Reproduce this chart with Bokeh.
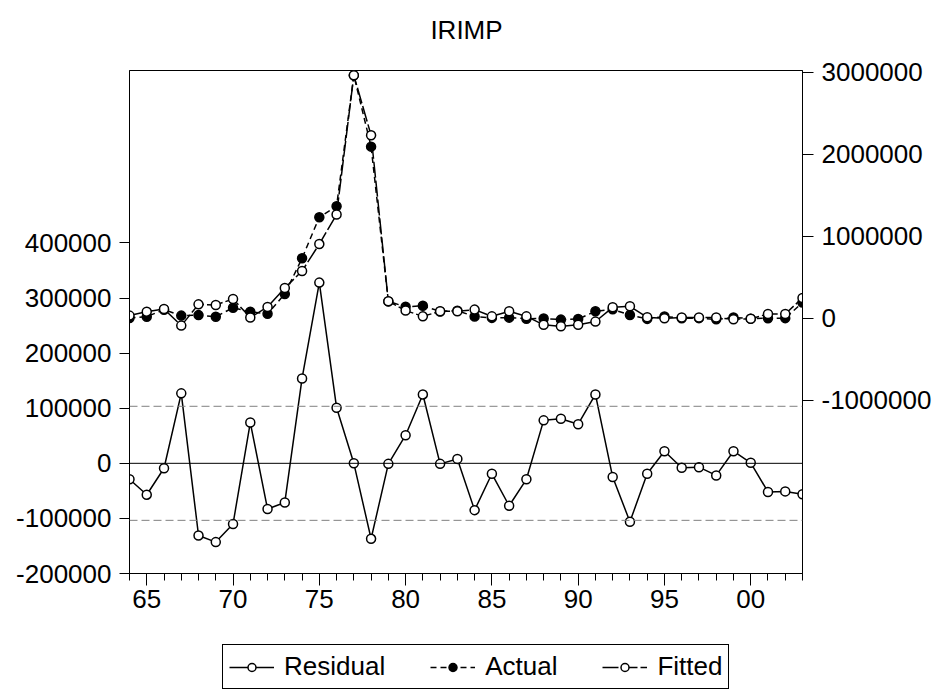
from bokeh.plotting import figure
from bokeh.layouts import column
from bokeh.models import (Range1d, LinearAxis, FixedTicker, NumeralTickFormatter,
                          Span, Legend, LegendItem, ColumnDataSource, Label)
from bokeh.embed import file_html
from bokeh.resources import INLINE

# IRIMP: actual vs fitted (right axis) and residuals (left axis), 1964-2003
years = list(range(1964, 2004))

residual = [-29000, -57000, -9000, 127000, -131000, -143000, -110000, 74000, -83000, -71000,
            154000, 328000, 101000, 0, -137000, -1000, 51000, 125000, -1000, 8000,
            -85000, -19000, -77000, -29000, 78000, 81000, 71000, 125000, -25000, -106000,
            -19000, 22000, -8000, -7000, -22000, 22000, 1000, -52000, -51000, -56000]

actual = [4000, 20000, 105000, 33000, 39000, 20000, 128000, 80000, 55000, 297000,
          732000, 1232000, 1366000, 2961000, 2092000, 206000, 140000, 152000, 84000, 93000,
          21000, 5000, 8000, -5000, -2000, -16000, -9000, 85000, 109000, 40000,
          -7000, 22000, 1000, 2000, -13000, 10000, -4000, 1000, 2000, 192000]

fitted = [33000, 81000, 114000, -89000, 170000, 163000, 236000, 9000, 139000, 370000,
          576000, 905000, 1265000, 2961000, 2231000, 207000, 94000, 24000, 85000, 85000,
          106000, 24000, 85000, 24000, -80000, -97000, -80000, -40000, 134000, 146000,
          12000, 0, 9000, 9000, 9000, -12000, -5000, 53000, 53000, 248000]

resid_se = 103500          # +/- one standard error band
left_ticks = [-200000, -100000, 0, 100000, 200000, 300000, 400000]
right_ticks = [-1000000, 0, 1000000, 2000000, 3000000]
year_ticks = [1965, 1970, 1975, 1980, 1985, 1990, 1995, 2000]
year_labels = ["65", "70", "75", "80", "85", "90", "95", "00"]
title_text = "IRIMP"

FONT = "Liberation Sans"
FS = "26px"
W = 946

src = ColumnDataSource(dict(year=years, residual=residual, actual=actual, fitted=fitted))


def bare_strip(height):
    """A frame-only strip (no axes, no outline) used for the heading and the key.
    In the column its frame lines up with the chart frame."""
    f = figure(width=W, height=height, output_backend="svg", toolbar_location=None,
               x_range=Range1d(0, 1), y_range=Range1d(0, 1),
               x_axis_location=None, y_axis_location=None, min_border=0)
    f.grid.visible = False
    f.outline_line_color = None
    f.background_fill_color = "white"
    f.border_fill_color = "white"
    return f


# heading (x measured from the left edge of the frame)
head = bare_strip(44)
head.add_layout(Label(x=337, y=15, x_units="screen", y_units="screen", text=title_text,
                      text_align="center", text_baseline="alphabetic",
                      text_font=FONT, text_font_size=FS, text_color="black"))

# main chart
p = figure(frame_width=673, frame_height=503, output_backend="svg", toolbar_location=None,
           x_range=Range1d(1964, 2003), y_range=Range1d(-200000, 713000),
           min_border_left=129, min_border_right=144, min_border_top=26,
           min_border_bottom=70)
p.extra_y_ranges = {"right": Range1d(-3110000, 3020000)}

p.grid.visible = False
p.outline_line_color = "black"
p.outline_line_width = 1
p.background_fill_color = "white"
p.border_fill_color = "white"

# bottom axis: two-digit years
xa = p.xaxis[0]
xa.ticker = FixedTicker(ticks=year_ticks, minor_ticks=years)
xa.major_label_overrides = {t: l for t, l in zip(year_ticks, year_labels)}
xa.major_tick_out = 12
xa.major_tick_in = 0
xa.minor_tick_out = 7
xa.minor_tick_in = 0
xa.major_label_standoff = 4
xa.major_label_text_font = FONT
xa.major_label_text_font_size = FS
xa.major_label_text_color = "black"
xa.axis_line_color = "black"
xa.major_tick_line_color = "black"
xa.minor_tick_line_color = "black"

# left axis: residuals
ya = p.yaxis[0]
ya.ticker = FixedTicker(ticks=left_ticks, minor_ticks=[])
ya.formatter = NumeralTickFormatter(format="0")
ya.major_tick_out = 10
ya.major_tick_in = 0
ya.minor_tick_out = 0
ya.minor_tick_in = 0
ya.major_label_standoff = 8
ya.major_label_text_font = FONT
ya.major_label_text_font_size = FS
ya.major_label_text_color = "black"

# right axis: actual and fitted
ra = LinearAxis(y_range_name="right")
ra.ticker = FixedTicker(ticks=right_ticks, minor_ticks=[])
ra.formatter = NumeralTickFormatter(format="0")
ra.major_tick_out = 11
ra.major_tick_in = 0
ra.minor_tick_out = 0
ra.minor_tick_in = 0
ra.major_label_standoff = 8
ra.major_label_text_font = FONT
ra.major_label_text_font_size = FS
ra.major_label_text_color = "black"
p.add_layout(ra, "right")

# reference lines: zero and +/- one standard error
p.add_layout(Span(location=0, dimension="width", line_color="black", line_width=1))
for loc in (resid_se, -resid_se):
    p.add_layout(Span(location=loc, dimension="width", line_color="#808080",
                      line_width=1, line_dash="8 4"))

MS = 9
STYLES = {
    "residual": dict(dash="solid", fill="white", kw={}),
    "actual": dict(dash="6 4", fill="black", kw={"y_range_name": "right"}),
    "fitted": dict(dash="16 3", fill="white", kw={"y_range_name": "right"}),
}


def draw_series(fig, col, use_axis=True):
    st = STYLES[col]
    kw = st["kw"] if use_axis else {}
    ln = fig.line("year", col, source=src, line_color="black", line_width=1.5,
                  line_dash=st["dash"], **kw)
    pt = fig.scatter("year", col, source=src, marker="circle", size=MS,
                     fill_color=st["fill"], line_color="black", line_width=1.5, **kw)
    return ln, pt


for col in ("residual", "actual", "fitted"):
    draw_series(p, col)

# key strip: same series styles; the data fall outside this strip's 0-1 ranges,
# so only the legend samples show
key = bare_strip(52)
items = []
for col, name in (("residual", "Residual"), ("actual", "Actual"), ("fitted", "Fitted")):
    ln, pt = draw_series(key, col, use_axis=False)
    items.append(LegendItem(label=name, renderers=[ln, pt]))

legend = Legend(items=items, orientation="horizontal", location=(93, 6),
                label_text_font=FONT, label_text_font_size=FS, label_text_color="black",
                glyph_width=45, glyph_height=20, label_standoff=10, spacing=45,
                padding=6, margin=0, border_line_color="black", border_line_width=1,
                border_line_alpha=1.0, background_fill_alpha=1.0)
key.add_layout(legend, "center")

layout = column(head, p, key, spacing=0)
open("out.html", "w").write(file_html(layout, INLINE))
